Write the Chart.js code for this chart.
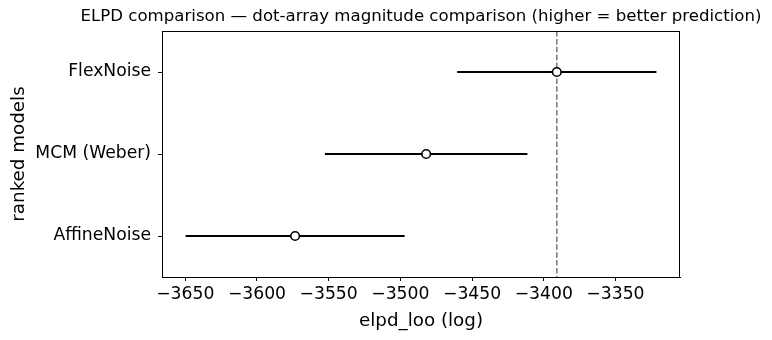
<!DOCTYPE html>
<html>
<head>
<meta charset="utf-8">
<script src="https://cdn.jsdelivr.net/npm/chart.js@4.4.1/dist/chart.umd.min.js"></script>
<style>
  html, body { margin: 0; padding: 0; background: #fff; }
</style>
</head>
<body>
<canvas id="elpdChart" width="772" height="340"></canvas>
<script>
// Model ranking: elpd_loo estimate and its standard error
const models = ['FlexNoise', 'MCM (Weber)', 'AffineNoise'];
const elpdLoo = [-3390.9, -3482.0, -3573.4];
const elpdSe = [69.5, 70.6, 76.4];
const xTicks = [-3650, -3600, -3550, -3500, -3450, -3400, -3350];
const titleText = 'ELPD comparison \u2014 dot-array magnitude comparison (higher = better prediction)';

const FONT = '"DejaVu Sans", sans-serif';

// x range: data extent plus 5% on each side
const lows = elpdLoo.map((v, i) => v - elpdSe[i]);
const highs = elpdLoo.map((v, i) => v + elpdSe[i]);
const xLo = Math.min(...lows);
const xHi = Math.max(...highs);
const xPad = (xHi - xLo) * 0.05;

// one horizontal bar per model
const errorBars = models.map((m, i) => ({
    label: m,
    data: [{ x: lows[i], y: i }, { x: highs[i], y: i }],
    showLine: true,
    borderColor: '#000',
    borderWidth: 2,
    pointRadius: 0,
    order: 2
}));

// top, right spines and the title above the axes
const framePlugin = {
    id: 'frame',
    afterDraw(chart) {
        const { ctx, chartArea } = chart;
        ctx.save();
        ctx.strokeStyle = '#000';
        ctx.lineWidth = 1;
        ctx.strokeRect(chartArea.left + 0.5, chartArea.top + 0.5,
            chartArea.right - chartArea.left - 1, chartArea.bottom - chartArea.top);
        ctx.fillStyle = '#000';
        ctx.font = '16.6px ' + FONT;
        ctx.textAlign = 'center';
        ctx.textBaseline = 'middle';
        ctx.fillText(titleText, (chartArea.left + chartArea.right) / 2, 17);
        ctx.restore();
    }
};

let elpdChart = new Chart(document.getElementById('elpdChart').getContext('2d'), {
    type: 'scatter',
    data: {
        datasets: [
            {
                label: 'best',
                data: [{ x: elpdLoo[0], y: -0.5 }, { x: elpdLoo[0], y: 2.5 }],
                showLine: true,
                borderColor: '#7f7f7f',
                borderWidth: 1.6,
                borderDash: [5.5, 2.4],
                pointRadius: 0,
                order: 3
            },
            ...errorBars,
            {
                label: 'elpd_loo',
                data: models.map((m, i) => ({ x: elpdLoo[i], y: i })),
                pointRadius: 4.3,
                pointBackgroundColor: '#fff',
                pointBorderColor: '#000',
                pointBorderWidth: 1.6,
                order: 0
            }
        ]
    },
    options: {
        responsive: false,
        animation: false,
        devicePixelRatio: 1,
        layout: { padding: { top: 31, right: 92, left: 0, bottom: 0 } },
        plugins: {
            legend: { display: false },
            tooltip: { enabled: false }
        },
        scales: {
            x: {
                type: 'linear',
                min: xLo - xPad,
                max: xHi + xPad,
                afterBuildTicks: s => { s.ticks = xTicks.map(v => ({ value: v })); },
                afterFit: s => { s.height = 63; },
                ticks: {
                    callback: v => String(v).replace('-', '\u2212'),
                    color: '#000',
                    font: { family: FONT, size: 17.2 },
                    padding: 3,
                    maxRotation: 0,
                    autoSkip: false
                },
                grid: { drawOnChartArea: false, drawTicks: true, tickLength: 4, tickColor: '#000' },
                border: { display: true, color: '#000', width: 1 },
                title: {
                    display: true,
                    text: 'elpd_loo (log)',
                    color: '#000',
                    font: { family: FONT, size: 18.3 },
                    padding: { top: 0, bottom: 8 }
                }
            },
            y: {
                type: 'linear',
                min: -0.5,
                max: 2.5,
                reverse: true,
                afterBuildTicks: s => { s.ticks = models.map((m, i) => ({ value: i })); },
                afterFit: s => { s.width = 162; },
                ticks: {
                    callback: v => models[v],
                    color: '#000',
                    font: { family: FONT, size: 17.2 },
                    padding: 7,
                    autoSkip: false
                },
                grid: { drawOnChartArea: false, drawTicks: true, tickLength: 4, tickColor: '#000' },
                border: { display: true, color: '#000', width: 1 },
                title: {
                    display: true,
                    text: 'ranked models',
                    color: '#000',
                    font: { family: FONT, size: 18.3 },
                    padding: { top: 8, bottom: 0 }
                }
            }
        }
    },
    plugins: [framePlugin]
});
</script>
</body>
</html>
